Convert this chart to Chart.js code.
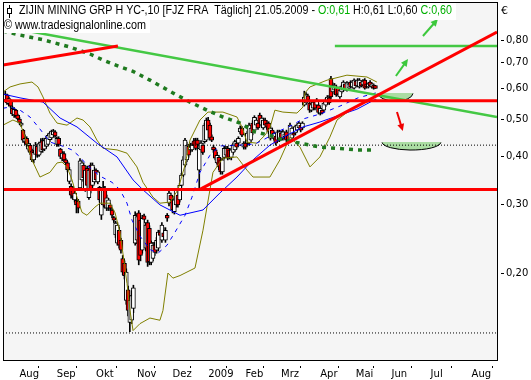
<!DOCTYPE html>
<html>
<head>
<meta charset="utf-8">
<script src="https://cdn.jsdelivr.net/npm/chart.js@4.4.0/dist/chart.umd.min.js"></script>
<style>
  html, body { margin: 0; padding: 0; background: #fff; }
  #wrap { width: 531px; height: 380px; }
</style>
</head>
<body>
<div id="wrap"><canvas id="chart" width="531" height="380"></canvas></div>
<script>
// trading day index of the first candle (0 = 1 Aug 2008)
const firstDay = -8;

// daily candles, 22.07.2008 - 21.05.2009
const opens = [
  .560,.577,.548,.560,.533,.512,.527,.512,.500,.482,
  .468,.436,.446,.418,.428,.414,.392,.405,.425,.403,
  .412,.440,.418,.425,.430,.442,.447,.455,.463,.430,
  .446,.418,.396,.407,.392,.385,.345,.335,.330,.309,
  .308,.307,.332,.348,.380,.328,.373,.313,.380,.337,
  .344,.369,.344,.333,.282,.300,.328,.294,.294,.300,
  .291,.278,.251,.239,.258,.243,.218,.212,.170,.181,
  .149,.151,.162,.239,.243,.286,.274,.229,.281,.232,
  .270,.261,.213,.218,.236,.229,.232,.255,.243,.254,
  .243,.282,.303,.318,.309,.288,.300,.318,.309,.337,
  .358,.380,.392,.425,.416,.416,.439,.441,.441,.369,
  .416,.428,.437,.441,.497,.482,.450,.423,.416,.385,
  .398,.392,.365,.398,.403,.420,.416,.398,.410,.416,
  .433,.433,.463,.474,.423,.433,.433,.433,.441,.488,
  .468,.482,.488,.512,.482,.474,.497,.488,.488,.446,
  .468,.446,.452,.441,.441,.460,.446,.450,.463,.454,
  .441,.446,.460,.460,.468,.474,.482,.474,.543,.550,
  .574,.550,.527,.533,.553,.543,.543,.518,.527,.527,
  .543,.553,.567,.636,.587,.594,.605,.601,.570,.587,
  .594,.616,.594,.601,.623,.605,.601,.627,.609,.605,
  .623,.612,.630,.616,.605,.623,.605,.612,.610
];
const highs = [
  .590,.580,.570,.562,.540,.535,.530,.515,.505,.490,
  .470,.455,.450,.440,.432,.418,.415,.435,.430,.436,
  .445,.446,.446,.450,.458,.463,.468,.470,.467,.450,
  .450,.420,.412,.412,.395,.388,.375,.340,.335,.326,
  .312,.310,.395,.390,.385,.372,.378,.372,.385,.385,
  .375,.372,.368,.335,.332,.345,.335,.318,.312,.303,
  .294,.280,.272,.270,.262,.246,.222,.215,.205,.185,
  .175,.180,.186,.288,.285,.290,.278,.282,.284,.270,
  .274,.265,.242,.240,.240,.247,.258,.258,.270,.262,
  .262,.285,.326,.322,.312,.315,.330,.322,.341,.362,
  .400,.446,.436,.430,.433,.433,.446,.446,.446,.433,
  .440,.433,.488,.503,.505,.488,.455,.428,.420,.410,
  .403,.396,.396,.425,.425,.425,.420,.420,.433,.441,
  .437,.450,.480,.478,.437,.437,.465,.488,.478,.495,
  .510,.503,.495,.518,.510,.503,.503,.495,.492,.480,
  .474,.463,.458,.468,.468,.465,.468,.463,.468,.458,
  .488,.478,.465,.482,.486,.492,.488,.492,.590,.585,
  .580,.555,.550,.558,.558,.565,.548,.538,.533,.553,
  .565,.575,.575,.645,.620,.618,.612,.605,.600,.612,
  .628,.620,.625,.620,.628,.628,.635,.630,.636,.636,
  .628,.632,.636,.620,.620,.628,.620,.616,.610
];
const lows = [
  .555,.545,.540,.535,.510,.505,.505,.497,.485,.478,
  .435,.430,.425,.413,.405,.388,.385,.400,.398,.400,
  .408,.410,.414,.420,.426,.437,.443,.450,.448,.425,
  .425,.395,.390,.388,.380,.365,.340,.312,.310,.305,
  .286,.286,.330,.345,.348,.325,.333,.310,.322,.333,
  .340,.344,.340,.305,.275,.296,.294,.290,.290,.290,
  .278,.270,.247,.236,.232,.225,.198,.193,.166,.155,
  .141,.148,.158,.236,.238,.210,.215,.225,.270,.228,
  .208,.210,.210,.215,.222,.225,.228,.246,.240,.245,
  .240,.272,.298,.305,.286,.284,.296,.296,.305,.333,
  .355,.376,.388,.398,.410,.412,.425,.416,.425,.330,
  .410,.405,.433,.437,.463,.441,.437,.410,.392,.382,
  .370,.360,.360,.394,.398,.392,.394,.392,.405,.412,
  .418,.428,.458,.450,.418,.418,.428,.428,.437,.455,
  .463,.478,.470,.482,.478,.470,.478,.470,.458,.441,
  .446,.441,.428,.437,.437,.441,.441,.446,.437,.436,
  .437,.441,.450,.455,.463,.470,.463,.470,.540,.545,
  .555,.520,.522,.528,.528,.538,.515,.512,.515,.522,
  .538,.548,.545,.565,.580,.590,.572,.575,.565,.583,
  .590,.594,.590,.597,.601,.601,.597,.605,.605,.601,
  .605,.608,.597,.601,.601,.605,.601,.597,.600
];
const closes = [
  .580,.550,.565,.540,.515,.530,.510,.500,.490,.488,
  .441,.446,.430,.432,.410,.392,.410,.428,.403,.432,
  .436,.416,.440,.446,.454,.460,.465,.465,.452,.446,
  .430,.400,.408,.392,.385,.370,.370,.318,.316,.322,
  .300,.294,.390,.385,.352,.369,.337,.369,.328,.380,
  .369,.348,.365,.309,.328,.332,.298,.313,.309,.294,
  .282,.274,.269,.266,.236,.229,.201,.197,.201,.160,
  .170,.175,.183,.282,.280,.216,.222,.277,.275,.266,
  .213,.214,.239,.236,.226,.243,.255,.250,.266,.248,
  .258,.277,.322,.309,.291,.309,.328,.300,.337,.358,
  .392,.441,.428,.403,.423,.428,.428,.420,.430,.420,
  .433,.410,.482,.497,.468,.446,.441,.416,.396,.403,
  .376,.365,.392,.420,.420,.396,.398,.416,.428,.437,
  .423,.446,.474,.454,.433,.423,.460,.482,.474,.460,
  .505,.497,.474,.488,.503,.497,.482,.476,.463,.474,
  .450,.460,.433,.463,.463,.446,.463,.458,.441,.441,
  .482,.474,.454,.478,.482,.488,.468,.488,.570,.577,
  .560,.527,.545,.553,.533,.560,.520,.533,.518,.550,
  .560,.570,.550,.570,.612,.612,.577,.580,.594,.608,
  .623,.598,.620,.616,.605,.623,.630,.609,.630,.630,
  .609,.627,.601,.605,.616,.609,.616,.601,.600
];

// x axis: month starts in trading days
const monthDays = [0, 21, 43, 66, 86, 106, 127, 147, 169, 189, 209, 231, 254];
const monthNames = ['Aug', 'Sep', 'Okt', 'Nov', 'Dez', '2009', 'Feb', 'Mrz', 'Apr', 'Mai', 'Jun', 'Jul', 'Aug'];
const priceTicks = [0.2, 0.3, 0.4, 0.5, 0.6, 0.7, 0.8];
const dayRange = [-9.27, 268.3];
const priceRange = [0.1192, 1.003];

// indicators, [day, price]
const bollUpper = [[-9.3,.587],[-5.3,.605],[0.3,.616],[7,.623],[10.4,.605],[13.2,.570],[17.1,.518],[21.1,.488],
  [26.7,.482],[32.3,.503],[35.7,.497],[39.6,.477],[43.5,.441],[46.9,.420],[54.8,.416],[60.4,.408],[66,.376],
  [69.4,.343],[75,.314],[78.9,.303],[84.6,.305],[89,.328],[93,.380],[95.8,.441],[101.4,.497],[105.9,.521],
  [114.3,.521],[122.2,.506],[125,.477],[127.8,.436],[133.4,.433],[137.9,.454],[140.7,.474],[143.5,.527],
  [148,.521],[155.9,.518],[159.3,.537],[160.4,.584],[163.2,.605],[172.8,.630],[184,.649],[195.2,.642],[200.8,.623]];
const bollLower = [[-9.3,.482],[-3.7,.497],[0.3,.488],[3.1,.449],[7,.392],[11.5,.354],[17.1,.364],[21.1,.385],
  [23.9,.387],[26.7,.376],[29.5,.348],[32.3,.314],[35.1,.287],[37.9,.282],[42.4,.296],[45.2,.303],[50.8,.303],
  [53.7,.286],[56.5,.254],[58.1,.225],[60.4,.188],[62.1,.160],[63.8,.142],[67.7,.148],[73.3,.153],[78.9,.151],
  [80.6,.160],[83.4,.200],[86.2,.194],[90.2,.197],[98.6,.206],[103.1,.258],[107,.328],[108.7,.364],[114.3,.396],
  [122.2,.399],[127.8,.369],[131.2,.354],[140.7,.354],[146.3,.392],[152,.449],[157.6,.423],[163.2,.376],
  [168.8,.399],[174.4,.449],[178.4,.497],[185.7,.527],[193,.550],[200.8,.560]];
const avgSlow = [[-9.3,.580],[0.3,.567],[13.2,.553],[22.8,.503],[32.3,.477],[43.5,.433],[54.8,.399],[63.8,.348],
  [69.4,.328],[78.9,.300],[90.2,.282],[103.1,.291],[112.6,.322],[122.2,.354],[131.2,.392],[140.7,.428],
  [150.3,.454],[159.3,.477],[168.8,.491],[178.4,.509],[189.6,.530],[200.3,.563]];
const avgFast = [[-9.3,.533],[-5.3,.537],[0.3,.527],[5.9,.506],[11.5,.471],[17.1,.436],[23.9,.426],[29.5,.416],
  [34,.399],[37.9,.380],[45.2,.356],[52,.343],[56.5,.328],[60.4,.303],[63.2,.274],[67.7,.249],[73.3,.230],
  [77.8,.225],[82.9,.236],[87.4,.255],[93,.282],[96.9,.314],[101.4,.364],[107,.403],[112.6,.426],[123.9,.428],
  [132.3,.431],[137.9,.444],[144.7,.463],[152,.479],[159.3,.500],[168.8,.515],[180.1,.540],[190.2,.567],[200.3,.584]];
const avg200 = [[-9.3,.844],[0.3,.824],[13.8,.800],[28.4,.767],[39.6,.736],[46.9,.710],[56.5,.682],[63.8,.664],
  [73.3,.630],[86.2,.584],[95.8,.553],[105.3,.527],[114.3,.506],[123.9,.488],[132.3,.463],[140.7,.454],
  [148,.441],[157.6,.433],[168.8,.423],[178.4,.420],[189.6,.416],[199.7,.416]];

// drawn lines
const redTopLine = [[-9.27,.689],[55.3,.772]];
const redUpLine = [[101.4,.329],[268.3,.839]];
const greenDownLine = [[-9.27,.867],[268.3,.506]];
const redLevels = [0.557, 0.3286];
const greenLevel = [177.2, 0.772];
const dotLevels = [0.428, 0.140];

// marks: [day from, day to, price top, price bottom] and arrows [day0, price0, day1, price1]
const targetBowls = [[201.4, 221.1, .5835, .556], [203.7, 236.8, .436, .4157]];
const upArrows = [[211.5, .6457, 218.3, .7145], [226.7, .8193, 235.1, .9065]];
const downArrows = [[212.1, .5211, 215.4, .4654]];

const days = opens.map((o, i) => firstDay + i);
const pts = arr => arr.map(p => ({x: p[0], y: p[1]}));
const level = (v, from) => [{x: from, y: v}, {x: dayRange[1], y: v}];

function line(data, color, width, extra) {
  return Object.assign({type: 'line', data: pts(data), borderColor: color, borderWidth: width,
    pointRadius: 0, fill: false, tension: 0}, extra || {});
}

function drawArrow(ctx, x0, y0, x1, y1, color) {
  const a = Math.atan2(y1 - y0, x1 - x0);
  ctx.strokeStyle = color; ctx.fillStyle = color; ctx.lineWidth = 2;
  ctx.beginPath();
  ctx.moveTo(x0, y0);
  ctx.lineTo(x1 - 5 * Math.cos(a), y1 - 5 * Math.sin(a));
  ctx.stroke();
  ctx.beginPath();
  ctx.moveTo(x1, y1);
  ctx.lineTo(x1 - 8 * Math.cos(a - 0.45), y1 - 8 * Math.sin(a - 0.45));
  ctx.lineTo(x1 - 8 * Math.cos(a + 0.45), y1 - 8 * Math.sin(a + 0.45));
  ctx.closePath();
  ctx.fill();
}

function fitText(ctx, parts, x, y, width) {
  const full = ctx.measureText(parts.map(p => p[0]).join('')).width;
  ctx.save();
  ctx.translate(x, y);
  ctx.scale(width / full, 1);
  let pos = 0;
  parts.forEach(p => {
    ctx.fillStyle = p[1];
    ctx.fillText(p[0], pos, 0);
    pos += ctx.measureText(p[0]).width;
  });
  ctx.restore();
}

const deco = {
  id: 'deco',
  beforeDraw(chart) {
    const {ctx, chartArea: a} = chart;
    ctx.save();
    ctx.fillStyle = '#fff';
    ctx.fillRect(0, 0, chart.width, chart.height);
    ctx.fillStyle = '#f5f5f5';
    ctx.fillRect(a.left, a.top, a.right - a.left, a.bottom - a.top);
    ctx.restore();
  },
  beforeDatasetsDraw(chart) {
    const {ctx} = chart;
    const xs = chart.scales.x, ys = chart.scales.y;
    ctx.save();
    targetBowls.forEach(b => {
      const x0 = xs.getPixelForValue(b[0]), x1 = xs.getPixelForValue(b[1]);
      const yt = ys.getPixelForValue(b[2]), yb = ys.getPixelForValue(b[3]);
      const cx = (x0 + x1) / 2, rx = (x1 - x0) / 2, ry = yb - yt;
      ctx.beginPath();
      ctx.ellipse(cx, yt, rx, ry, 0, 0, Math.PI);
      ctx.closePath();
      ctx.fillStyle = '#aadca2';
      ctx.fill();
      ctx.beginPath();
      ctx.ellipse(cx, yt, rx, ry, 0, 0.05, Math.PI - 0.05);
      ctx.strokeStyle = '#000';
      ctx.lineWidth = 1;
      ctx.stroke();
    });
    ctx.restore();
  },
  afterDatasetsDraw(chart) {
    const {ctx, chartArea: a} = chart;
    const xs = chart.scales.x, ys = chart.scales.y;
    ctx.save();
    upArrows.forEach(r => drawArrow(ctx, xs.getPixelForValue(r[0]), ys.getPixelForValue(r[1]),
      xs.getPixelForValue(r[2]), ys.getPixelForValue(r[3]), '#3cc83c'));
    downArrows.forEach(r => drawArrow(ctx, xs.getPixelForValue(r[0]), ys.getPixelForValue(r[1]),
      xs.getPixelForValue(r[2]), ys.getPixelForValue(r[3]), '#f00000'));

    // frame
    ctx.strokeStyle = '#000';
    ctx.lineWidth = 1;
    ctx.strokeRect(a.left + 0.5, a.top + 0.5, a.right - a.left, a.bottom - a.top);

    // header
    ctx.fillStyle = '#fff';
    ctx.fillRect(a.left + 1, a.top + 1, 452, 17);
    ctx.fillRect(a.left + 1, a.top + 18, 146, 13);
    // small candle symbol
    ctx.fillStyle = '#000';
    ctx.fillRect(9, 5, 1, 13);
    ctx.fillStyle = '#fff';
    ctx.fillRect(7, 8, 5, 6);
    ctx.strokeRect(7.5, 8.5, 4, 5);

    ctx.font = '12px "Liberation Sans"';
    ctx.textBaseline = 'middle';
    fitText(ctx, [
      ['ZIJIN MINING GRP H YC-,10 [FJZ FRA  T\u00e4glich] 21.05.2009 - ', '#000'],
      ['O:0,61', '#00b000'],
      [' H:0,61 L:0,60 ', '#000'],
      ['C:0,60', '#00b000']
    ], 19, 11, 433);
    fitText(ctx, [['\u00a9 www.tradesignalonline.com', '#000']], 4, 26, 142);

    ctx.font = '11px "DejaVu Sans"';
    ctx.fillStyle = '#000';
    ctx.fillText('\u20ac', a.right + 4, 11);
    ctx.restore();
  }
};

const datasets = [
  line(redTopLine, '#ff0000', 3, {order: 1}),
  line(redUpLine, '#ff0000', 3, {order: 1}),
  {type: 'line', data: level(redLevels[0], dayRange[0]), borderColor: '#ff0000', borderWidth: 3, pointRadius: 0, order: 1},
  {type: 'line', data: level(redLevels[1], dayRange[0]), borderColor: '#ff0000', borderWidth: 3, pointRadius: 0, order: 1},
  line(greenDownLine, '#44c844', 2.5, {order: 2}),
  {type: 'line', data: level(greenLevel[1], greenLevel[0]), borderColor: '#44c844', borderWidth: 2.5, pointRadius: 0, order: 2},
  line(avg200, '#1f7a1f', 3.5, {borderDash: [4, 5], order: 3}),
  {type: 'line', data: level(dotLevels[0], dayRange[0]), borderColor: '#000', borderWidth: 1, borderDash: [1, 2], pointRadius: 0, order: 4},
  {type: 'line', data: level(dotLevels[1], dayRange[0]), borderColor: '#000', borderWidth: 1, borderDash: [1, 2], pointRadius: 0, order: 4},
  line(avgSlow, '#0000ff', 1, {order: 5}),
  line(avgFast, '#0000ff', 1, {borderDash: [4, 5], order: 5}),
  line(bollUpper, '#808000', 1, {order: 6}),
  line(bollLower, '#808000', 1, {order: 6}),
  {
    type: 'bar', order: 7,
    data: days.map((d, i) => ({x: d, y: [Math.min(opens[i], closes[i]), Math.max(opens[i], closes[i])]})),
    backgroundColor: closes.map((c, i) => c < opens[i] ? '#ff0000' : '#ffffff'),
    borderColor: '#000', borderWidth: 1, borderSkipped: false,
    barThickness: 4, minBarLength: 2, grouped: false
  },
  {
    type: 'bar', order: 8,
    data: days.map((d, i) => ({x: d, y: [lows[i], highs[i]]})),
    backgroundColor: '#000', borderWidth: 0,
    barThickness: 1, grouped: false
  }
];

new Chart(document.getElementById('chart'), {
  type: 'bar',
  data: {datasets: datasets},
  options: {
    responsive: false,
    animation: false,
    devicePixelRatio: 1,
    layout: {padding: {left: 3, top: 2, right: 0, bottom: 0}},
    plugins: {legend: {display: false}, tooltip: {enabled: false}},
    scales: {
      x: {
        type: 'linear', position: 'bottom', bounds: 'data', offset: false,
        min: dayRange[0], max: dayRange[1],
        afterBuildTicks: s => { s.ticks = monthDays.map(v => ({value: v})); },
        afterFit: s => { s.height = 20; s.paddingLeft = 0; s.paddingRight = 0; },
        grid: {drawOnChartArea: false, drawTicks: true, tickLength: 8, color: '#000', tickBorderDash: [0, 5, 3, 20]},
        border: {display: true, color: '#000'},
        ticks: {
          align: 'start', maxRotation: 0, autoSkip: false, padding: 0,
          color: '#000', font: {family: 'DejaVu Sans', size: 10},
          callback: v => monthNames[monthDays.indexOf(v)]
        }
      },
      y: {
        type: 'logarithmic', position: 'right', bounds: 'data',
        min: priceRange[0], max: priceRange[1],
        afterBuildTicks: s => { s.ticks = priceTicks.map(v => ({value: v})); },
        afterFit: s => { s.width = 34; s.paddingTop = 0; s.paddingBottom = 0; },
        grid: {drawOnChartArea: false, drawTicks: true, tickLength: 7, color: '#000', tickBorderDash: [0, 3, 4, 20]},
        border: {display: true, color: '#000'},
        ticks: {
          padding: 2, color: '#000', font: {family: 'DejaVu Sans', size: 10},
          callback: v => v.toFixed(2).replace('.', ',')
        }
      }
    }
  },
  plugins: [deco]
});
</script>
</body>
</html>
